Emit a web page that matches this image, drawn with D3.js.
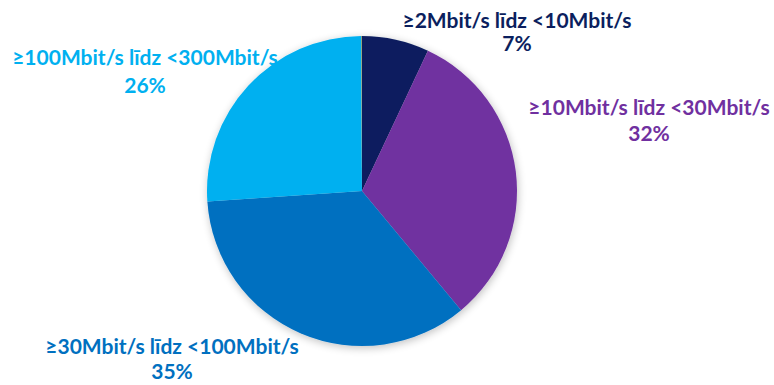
<!DOCTYPE html>
<html>
<head>
<meta charset="utf-8">
<script src="https://cdn.jsdelivr.net/npm/d3@7"></script>
<style>
  html, body { margin: 0; padding: 0; background: #ffffff; }
  svg { display: block; }
  text { font-family: Lato, "Open Sans", sans-serif; font-weight: 700; }
</style>
</head>
<body>
<div id="chart"></div>
<script>
// Broadband speed bands and their shares (%)
const categories = [
  "≥2Mbit/s līdz <10Mbit/s",
  "≥10Mbit/s līdz <30Mbit/s",
  "≥30Mbit/s līdz <100Mbit/s",
  "≥100Mbit/s līdz <300Mbit/s",
  "≥300Mbit/s"
];
const shares = [7, 32, 35, 26, 0.1];
const shareLabels = ["7%", "32%", "35%", "26%", ""];
const colors = ["#0b1f5e", "#7030a0", "#0070c0", "#00b0f0", "#8aa37e"];

const width = 774, height = 385;
const cx = 362, cy = 191, radius = 155;
const fontSize = 21;

// Label anchor points (centre of each two-line label)
const labelPos = [
  { x: 517, y1: 28, y2: 51 },
  { x: 649, y1: 115, y2: 141 },
  { x: 172, y1: 354, y2: 379 },
  { x: 145, y1: 65, y2: 93 },
  null
];

const svg = d3.select("#chart").append("svg")
  .attr("width", width).attr("height", height);

const defs = svg.append("defs");
const shadow = defs.append("filter").attr("id", "pieShadow")
  .attr("x", "-20%").attr("y", "-20%").attr("width", "140%").attr("height", "140%");
shadow.append("feGaussianBlur").attr("in", "SourceAlpha").attr("stdDeviation", 4).attr("result", "blur");
shadow.append("feOffset").attr("in", "blur").attr("dx", 1).attr("dy", 2).attr("result", "off");
shadow.append("feComponentTransfer").attr("in", "off").attr("result", "soft")
  .append("feFuncA").attr("type", "linear").attr("slope", 0.25);
const merge = shadow.append("feMerge");
merge.append("feMergeNode").attr("in", "soft");
merge.append("feMergeNode").attr("in", "SourceGraphic");

const data = categories.map((c, i) => ({ name: c, value: shares[i], label: shareLabels[i], color: colors[i], pos: labelPos[i] }));

const pie = d3.pie().value(d => d.value).sort(null);
const arc = d3.arc().innerRadius(0).outerRadius(radius);

const g = svg.append("g")
  .attr("transform", `translate(${cx},${cy})`)
  .attr("filter", "url(#pieShadow)");

g.selectAll("path")
  .data(pie(data))
  .join("path")
  .attr("d", arc)
  .attr("fill", d => d.data.color);

// Category labels with percentage beneath
const labels = svg.selectAll("g.label")
  .data(data.filter(d => d.pos))
  .join("g")
  .attr("class", "label")
  .attr("fill", d => d.color);

labels.append("text")
  .attr("x", d => d.pos.x).attr("y", d => d.pos.y1)
  .attr("text-anchor", "middle")
  .attr("font-size", fontSize)
  .text(d => d.name);

labels.append("text")
  .attr("x", d => d.pos.x).attr("y", d => d.pos.y2)
  .attr("text-anchor", "middle")
  .attr("font-size", fontSize)
  .text(d => d.label);
</script>
</body>
</html>
